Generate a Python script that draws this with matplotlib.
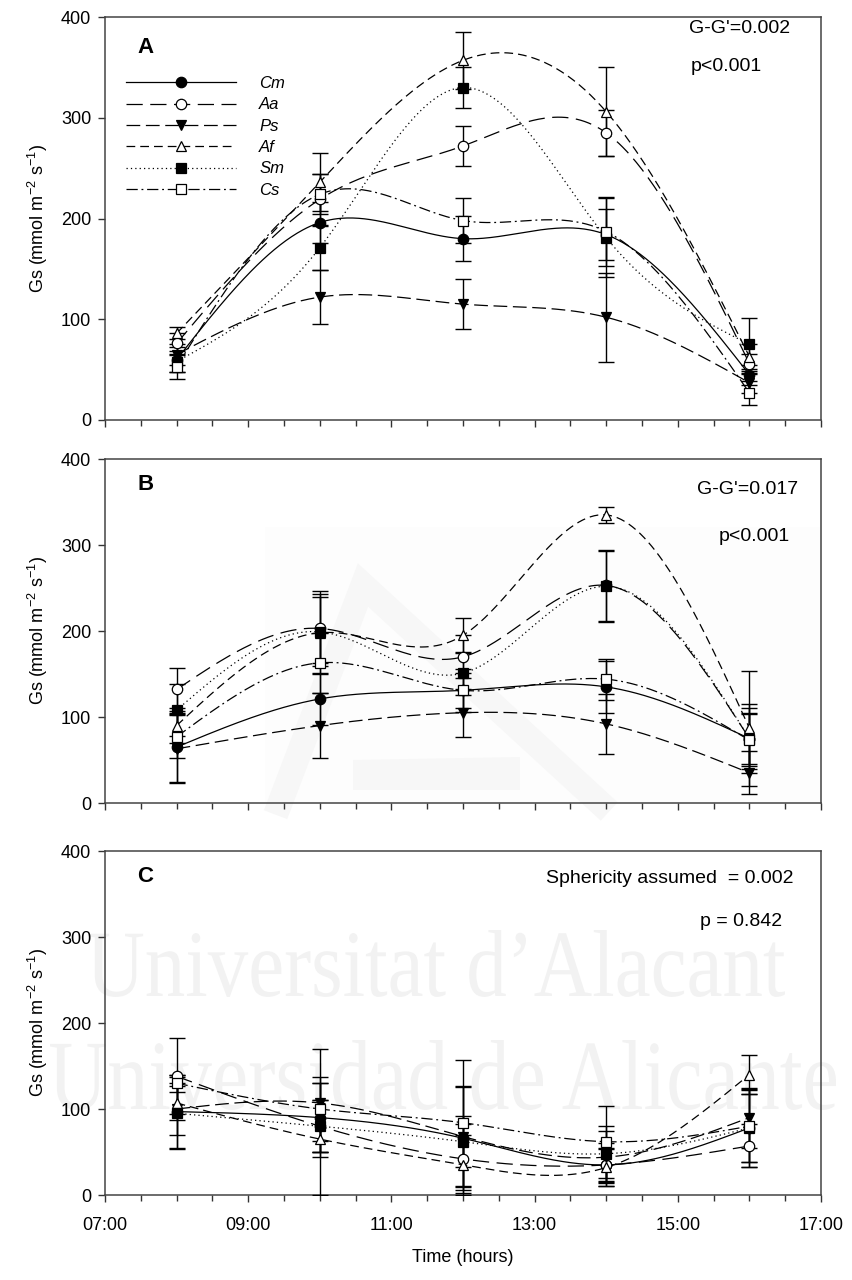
import numpy as np
import matplotlib
matplotlib.use("Agg")
import matplotlib.pyplot as plt
from matplotlib.lines import Line2D
from matplotlib.textpath import TextPath
from matplotlib.patches import PathPatch, Polygon
from matplotlib.font_manager import FontProperties
from matplotlib.transforms import Affine2D
from matplotlib.ticker import MultipleLocator, FixedLocator

plt.rcParams['font.family'] = ['Liberation Sans', 'DejaVu Sans']
plt.rcParams['mathtext.fontset'] = 'custom'
plt.rcParams['mathtext.rm'] = 'Liberation Sans'
plt.rcParams['mathtext.it'] = 'Liberation Sans:italic'

# ---------------- data ----------------
hours = [8, 10, 12, 14, 16]
species = ['Cm', 'Aa', 'Ps', 'Af', 'Sm', 'Cs']

# Panel A
A_Cm = [60, 196, 180, 184, 45];   A_Cm_err = [12, 20, 22, 25, 10]
A_Aa = [76, 219, 272, 285, 56];   A_Aa_err = [10, 25, 20, 23, 10]
A_Ps = [65, 122, 115, 102, 37];   A_Ps_err = [10, 27, 25, 44, 10]
A_Af = [86, 236, 357, 306, 63];   A_Af_err = [6, 29, 28, 44, 12]
A_Sm = [58, 171, 330, 181, 75];   A_Sm_err = [10, 22, 20, 39, 26]
A_Cs = [53, 224, 198, 187, 27];   A_Cs_err = [12, 20, 22, 34, 12]

# Panel B
B_Cm = [65, 121, 131, 135, 75];   B_Cm_err = [40, 30, 25, 30, 40]
B_Aa = [132, 203, 170, 253, 75];  B_Aa_err = [25, 40, 25, 41, 30]
B_Ps = [63, 90, 105, 92, 35];     B_Ps_err = [40, 38, 28, 35, 25]
B_Af = [90, 198, 195, 335, 87];   B_Af_err = [20, 48, 20, 9, 67]
B_Sm = [108, 199, 151, 252, 75];  B_Sm_err = [30, 40, 25, 41, 35]
B_Cs = [77, 163, 131, 144, 73];   B_Cs_err = [25, 35, 20, 24, 30]

# Panel C
C_Cm = [97, 90, 66, 35, 78];      C_Cm_err = [42, 40, 60, 20, 40]
C_Aa = [138, 80, 42, 35, 57];     C_Aa_err = [44, 30, 40, 25, 25]
C_Ps = [100, 107, 68, 44, 90];    C_Ps_err = [30, 63, 59, 30, 35]
C_Af = [107, 65, 35, 32, 140];    C_Af_err = [20, 65, 35, 22, 23]
C_Sm = [95, 80, 62, 48, 78];      C_Sm_err = [42, 30, 30, 32, 45]
C_Cs = [130, 100, 84, 62, 80];    C_Cs_err = [10, 37, 73, 42, 42]

x_tick_labels = ['07:00', '09:00', '11:00', '13:00', '15:00', '17:00']
panel_letters = ['A', 'B', 'C']
stat_line1 = ["G-G'=0.002", "G-G'=0.017", "Sphericity assumed  = 0.002"]
stat_line2 = ["p<0.001", "p<0.001", "p = 0.842"]

panels = [
    [(A_Cm, A_Cm_err), (A_Aa, A_Aa_err), (A_Ps, A_Ps_err), (A_Af, A_Af_err), (A_Sm, A_Sm_err), (A_Cs, A_Cs_err)],
    [(B_Cm, B_Cm_err), (B_Aa, B_Aa_err), (B_Ps, B_Ps_err), (B_Af, B_Af_err), (B_Sm, B_Sm_err), (B_Cs, B_Cs_err)],
    [(C_Cm, C_Cm_err), (C_Aa, C_Aa_err), (C_Ps, C_Ps_err), (C_Af, C_Af_err), (C_Sm, C_Sm_err), (C_Cs, C_Cs_err)],
]

# ---------------- styles ----------------
styles = {
    'Cm': dict(ls='-', marker='o', mfc='black'),
    'Aa': dict(ls=(0, (13, 6)), marker='o', mfc='white'),
    'Ps': dict(ls=(0, (11, 4.5)), marker='v', mfc='black'),
    'Af': dict(ls=(0, (7, 4)), marker='^', mfc='white'),
    'Sm': dict(ls=(0, (1, 2.5)), marker='s', mfc='black'),
    'Cs': dict(ls=(0, (9, 3, 1.5, 3)), marker='s', mfc='white'),
}


def natural_spline(x, y, xs):
    x = np.asarray(x, float); y = np.asarray(y, float)
    n = len(x)
    h = np.diff(x)
    A = np.zeros((n, n)); r = np.zeros(n)
    A[0, 0] = 1; A[-1, -1] = 1
    for i in range(1, n - 1):
        A[i, i - 1] = h[i - 1]
        A[i, i] = 2 * (h[i - 1] + h[i])
        A[i, i + 1] = h[i]
        r[i] = 6 * ((y[i + 1] - y[i]) / h[i] - (y[i] - y[i - 1]) / h[i - 1])
    M = np.linalg.solve(A, r)
    out = np.empty_like(xs)
    for k, xv in enumerate(xs):
        i = min(max(np.searchsorted(x, xv) - 1, 0), n - 2)
        t1 = x[i + 1] - xv; t0 = xv - x[i]
        out[k] = (M[i] * t1**3 / (6 * h[i]) + M[i + 1] * t0**3 / (6 * h[i])
                  + (y[i] / h[i] - M[i] * h[i] / 6) * t1
                  + (y[i + 1] / h[i] - M[i + 1] * h[i] / 6) * t0)
    return out


W, H = 853, 1280
fig = plt.figure(figsize=(W / 100, H / 100), dpi=100)

# background layer (watermark) in pixel coordinates
bg = fig.add_axes([0, 0, 1, 1], zorder=-20)
bg.set_xlim(0, W); bg.set_ylim(H, 0); bg.axis('off')

def watermark(text, x0, x1, ybase, ytop):
    fp = FontProperties(family='Liberation Serif')
    tp = TextPath((0, 0), text, size=100, prop=fp)
    ext = tp.get_extents()
    sx = (x1 - x0) / ext.width
    sy = (ybase - ytop) / ext.y1
    tr = Affine2D().translate(-ext.x0, 0).scale(sx, -sy).translate(x0, ybase)
    bg.add_patch(PathPatch(tr.transform_path(tp), facecolor='#f2f2f2', edgecolor='none', lw=0))

watermark("Universitat d\u2019Alacant", 88, 785, 996, 930)
watermark("Universidad de Alicante", 50, 836, 1109, 1040)

# faint logo in panel B
bg.add_patch(Polygon([(265, 527), (821, 527), (821, 803), (265, 803)], closed=True,
                     facecolor='#fdfdfd', edgecolor='none'))
bg.plot([280, 363, 600], [803, 585, 803], color='#f7f7f7', lw=18, solid_joinstyle='miter')
bg.add_patch(Polygon([(353, 760), (520, 757), (520, 790), (353, 790)], closed=True,
                     facecolor='#f7f7f7', edgecolor='none'))

boxes = [(17, 420), (459, 803), (851, 1195)]
left_px, right_px = 105, 821
axes = []
for (top, bot) in boxes:
    ax = fig.add_axes([left_px / W, 1 - bot / H, (right_px - left_px) / W, (bot - top) / H])
    ax.set_facecolor('none')
    axes.append(ax)

xs = np.linspace(8, 16, 300)
for p, ax in enumerate(axes):
    for name, (vals, errs) in zip(species, panels[p]):
        st = styles[name]
        ys = natural_spline(hours, vals, xs)
        ax.plot(xs, ys, color='black', lw=0.9, ls=st['ls'], zorder=2)
        ax.errorbar(hours, vals, yerr=errs, fmt='none', ecolor='black', elinewidth=1.0,
                    capsize=5.5, capthick=1.0, zorder=3)
        ax.plot(hours, vals, ls='none', marker=st['marker'], ms=7.5, mfc=st['mfc'],
                mec='black', mew=0.9, zorder=4)
    ax.set_xlim(7, 17)
    ax.set_ylim(0, 400)
    ax.yaxis.set_major_locator(MultipleLocator(100))
    ax.xaxis.set_major_locator(FixedLocator([7, 9, 11, 13, 15, 17]))
    ax.xaxis.set_minor_locator(MultipleLocator(0.5))
    ax.tick_params(axis='both', which='major', direction='out', length=5, width=1.0,
                   labelsize=13, color='#333333')
    ax.tick_params(axis='x', which='major', pad=11)
    ax.tick_params(axis='y', which='major', pad=5)
    ax.tick_params(axis='x', which='minor', direction='out', length=4, width=1.0, color='#333333')
    ax.tick_params(axis='y', which='minor', left=False)
    for sp in ax.spines.values():
        sp.set_linewidth(1.1)
        sp.set_color('#444444')
    if p < 2:
        ax.set_xticklabels([])
    else:
        ax.set_xticklabels(x_tick_labels)
        ax.set_xlabel('Time (hours)', fontsize=13, labelpad=11)
    ax.set_ylabel('Gs (mmol m$^{-2}$ s$^{-1}$)', fontsize=13, labelpad=8)
    ax.text(0.045, 0.925, panel_letters[p], transform=ax.transAxes, fontsize=16,
            fontweight='bold', va='center', ha='left')

# stats text
fs = 14
axes[0].text(0.957, 0.972, stat_line1[0], transform=axes[0].transAxes, fontsize=fs, ha='right', va='center')
axes[0].text(0.918, 0.876, stat_line2[0], transform=axes[0].transAxes, fontsize=fs, ha='right', va='center')
axes[1].text(0.968, 0.91, stat_line1[1], transform=axes[1].transAxes, fontsize=fs, ha='right', va='center')
axes[1].text(0.957, 0.776, stat_line2[1], transform=axes[1].transAxes, fontsize=fs, ha='right', va='center')
axes[2].text(0.961, 0.92, stat_line1[2], transform=axes[2].transAxes, fontsize=fs, ha='right', va='center')
axes[2].text(0.946, 0.795, stat_line2[2], transform=axes[2].transAxes, fontsize=fs, ha='right', va='center')

# legend
handles = []
for name in species:
    st = styles[name]
    handles.append(Line2D([], [], color='black', lw=0.9, ls=st['ls'], marker=st['marker'],
                          ms=7.5, mfc=st['mfc'], mec='black', mew=0.9))
leg = axes[0].legend(handles, species, loc='upper left', bbox_to_anchor=(0.02, 0.87),
                     frameon=False, handlelength=6.6, handletextpad=1.4, labelspacing=0.38,
                     prop=FontProperties(family='Liberation Sans', style='italic', size=12),
                     borderaxespad=0)

fig.savefig('out.png', dpi=100)
